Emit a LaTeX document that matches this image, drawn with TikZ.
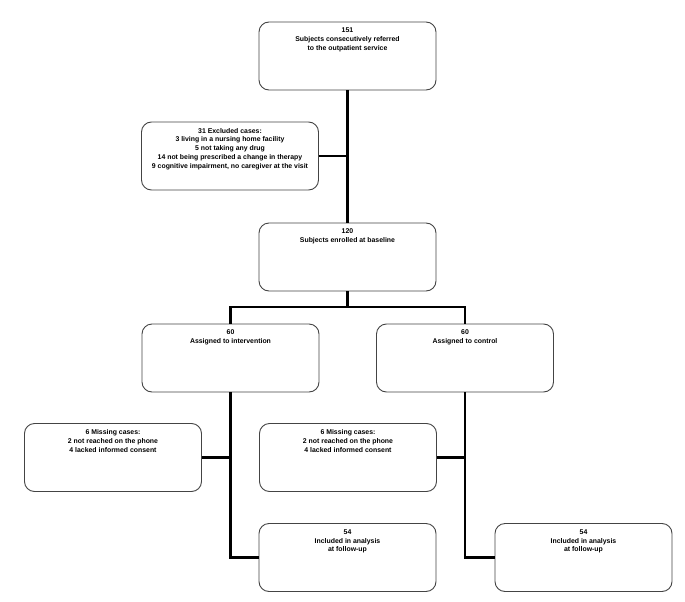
\documentclass[tikz,border=0pt]{standalone}
\usepackage{fontspec}
\setmainfont{Liberation Sans}
\definecolor{mGrey}{HTML}{444444}
\usepackage{tikz}
\usetikzlibrary{positioning}

\newcommand{\boxtext}[1]{\parbox[t][56pt][t]{169pt}{\centering\bfseries #1}}

\begin{document}
\begin{tikzpicture}[x=1pt, y=-1pt,
  flowbox/.style={draw=mGrey, line width=0.9pt, rounded corners=10pt, fill=white,
      inner xsep=4pt, inner ysep=6pt, font=\fontsize{6.9}{8.8}\selectfont},
  link/.style={draw=black, line width=2.6pt}]
\useasboundingbox (0,0) rectangle (685,602);

\node[flowbox] (referred) at (347.5,56)
  {\boxtext{151\\ Subjects consecutively referred\\ to the outpatient service}};
\node[flowbox] (excluded) at (230,156)
  {\boxtext{31 Excluded cases:\\ 3 living in a nursing home facility\\ 5 not taking any drug\\
   14 not being prescribed a change in therapy\\ 9 cognitive impairment, no caregiver at the visit}};
\node[flowbox] (enrolled) at (347.5,257)
  {\boxtext{120\\ Subjects enrolled at baseline}};
\node[flowbox] (interv) at (230.5,358)
  {\boxtext{60\\ Assigned to intervention}};
\node[flowbox] (control) at (465,358)
  {\boxtext{60\\ Assigned to control}};
\node[flowbox] (missInterv) at (113,457.5)
  {\boxtext{6 Missing cases:\\ 2 not reached on the phone\\ 4 lacked informed consent}};
\node[flowbox] (missControl) at (348,457.5)
  {\boxtext{6 Missing cases:\\ 2 not reached on the phone\\ 4 lacked informed consent}};
\node[flowbox] (inclInterv) at (347.5,557.5)
  {\boxtext{54\\ Included in analysis\\ at follow-up}};
\node[flowbox] (inclControl) at (583.5,557.5)
  {\boxtext{54\\ Included in analysis\\ at follow-up}};

\coordinate (split) at (347.5,307);

\draw[link] (referred.south) -- (enrolled.north);
\draw[link] (excluded.east) -- (excluded.east -| referred.south);
\draw[link] (enrolled.south) -- (split);
\draw[link] (interv.north) -- (interv.north |- split) -- (control.north |- split) -- (control.north);
\draw[link] (interv.south) |- (inclInterv.west);
\draw[link] (missInterv.east) -- (missInterv.east -| interv.south);
\draw[link] (control.south) |- (inclControl.west);
\draw[link] (missControl.east) -- (missControl.east -| control.south);
\end{tikzpicture}
\end{document}
